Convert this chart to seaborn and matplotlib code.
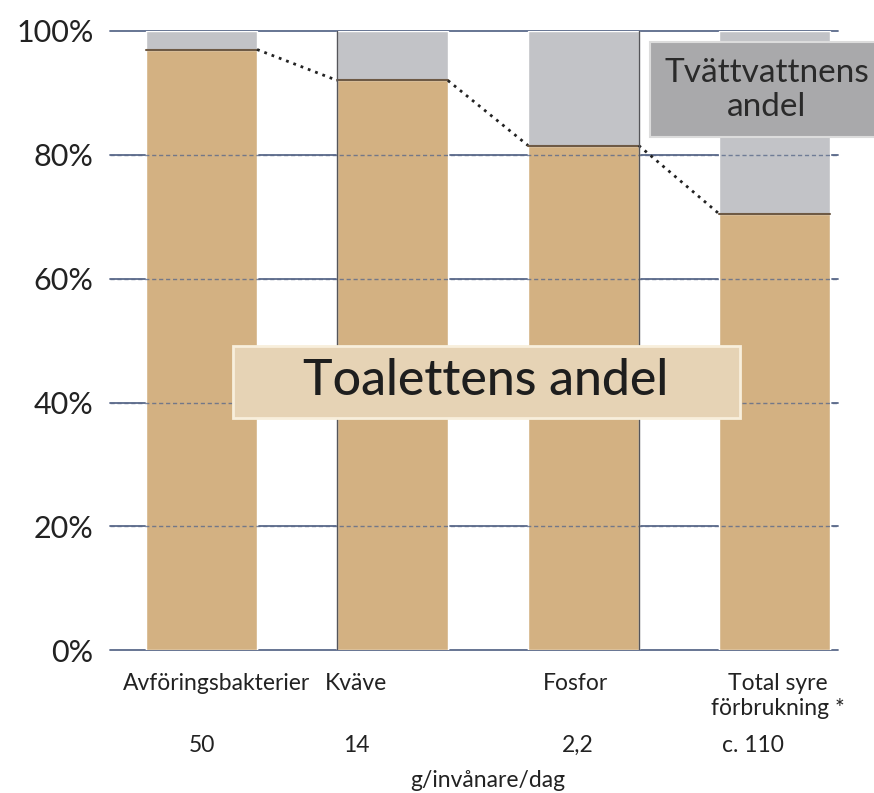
import pandas as pd
import matplotlib.pyplot as plt
import seaborn as sns
from matplotlib.patches import Rectangle

# values
categories = ['Avföringsbakterier', 'Kväve', 'Fosfor', 'Total syre\nförbrukning *']
toilet_share = [97, 92, 81.5, 70.5]
total_share = [100, 100, 100, 100]
amounts = ['50', '14', '2,2', 'c. 110']
y_ticks = [0, 20, 40, 60, 80, 100]

df = pd.DataFrame({'category': categories, 'toilet': toilet_share, 'total': total_share})

sns.set_theme(style='white')
plt.rcParams['font.family'] = ['Lato', 'DejaVu Sans']

tan = '#d3b182'
grey = '#c2c3c7'
grid_col = '#5b6a8a'
txt = '#222222'

fig = plt.figure(figsize=(8.74, 7.93), dpi=100)
ax = fig.add_axes([0.126, 0.18, 0.833, 0.781])

for y in y_ticks:
    ax.axhline(y, color=grid_col, lw=1.3, zorder=0, clip_on=False)

sns.barplot(data=df, x='category', y='total', color=grey, saturation=1, width=0.58, ax=ax, zorder=2)
sns.barplot(data=df, x='category', y='toilet', color=tan, saturation=1, width=0.58, ax=ax, zorder=3)

# dashed gridlines over the bars
for y in y_ticks[1:-1]:
    ax.axhline(y, color=grid_col, lw=1, ls=(0, (3, 2)), zorder=4, alpha=0.8)

tan_bars = ax.patches[len(categories):]
for i, p in enumerate(tan_bars):
    x0, w, h = p.get_x(), p.get_width(), p.get_height()
    ax.plot([x0, x0 + w], [h, h], color='#6e5a45', lw=1.5, zorder=5)
    if i + 1 < len(tan_bars):
        q = tan_bars[i + 1]
        ax.plot([x0 + w, q.get_x()], [h, q.get_height()], color='#222222', lw=2,
                ls=(0, (1, 1.8)), zorder=5)

# thin dark outlines seen on some bar sides
b2, b3 = tan_bars[1], tan_bars[2]
ax.plot([b2.get_x(), b2.get_x()], [0, 100], color='#55555a', lw=1, zorder=5)
ax.plot([b3.get_x() + b3.get_width()] * 2, [0, 100], color='#55555a', lw=1, zorder=5)

ax.set_xlim(-0.48, 3.335)
ax.set_ylim(0, 100)
ax.set_yticks(y_ticks)
ax.set_yticklabels([f'{v}%' for v in y_ticks], fontsize=22, color=txt)
ax.tick_params(axis='y', length=0, pad=12)
ax.set_xticks([])
ax.set_xlabel('')
ax.set_ylabel('')
sns.despine(ax=ax, left=True, bottom=True, top=True, right=True)

# category labels and amounts
label_x = [0.08, 0.81, 1.96, 3.02]
amount_x = [0, 0.81, 1.97, 2.89]
for i in range(len(categories)):
    ax.text(label_x[i], -3.6, categories[i], ha='center', va='top', fontsize=16.5,
            color=txt, linespacing=1.25)
    ax.text(amount_x[i], -15.3, amounts[i], ha='center', va='center', fontsize=16.5, color=txt)
ax.text(1.5, -21.0, 'g/invånare/dag', ha='center', va='center', fontsize=16.5, color=txt)

# in-chart labels
ax.add_patch(Rectangle((0.163, 37.5), 2.66, 11.6, facecolor='#e6d3b5', edgecolor='#f8efdc',
                       lw=2, zorder=6))
ax.text(1.49, 43.5, 'Toalettens andel', ha='center', va='center', fontsize=36, color='#1e1e1e',
        fontweight='medium', zorder=7)
ax.add_patch(Rectangle((2.35, 82.9), 1.3, 15.3, facecolor='#a9a9ab', edgecolor='#dcdcdc',
                       lw=1.5, zorder=6, clip_on=False))
ax.text(2.96, 90.5, 'Tvättvattnens\nandel', ha='center', va='center', fontsize=24, color='#2a2a2a',
        linespacing=1.15, zorder=7, clip_on=False)

fig.savefig('out.png', dpi=100)
